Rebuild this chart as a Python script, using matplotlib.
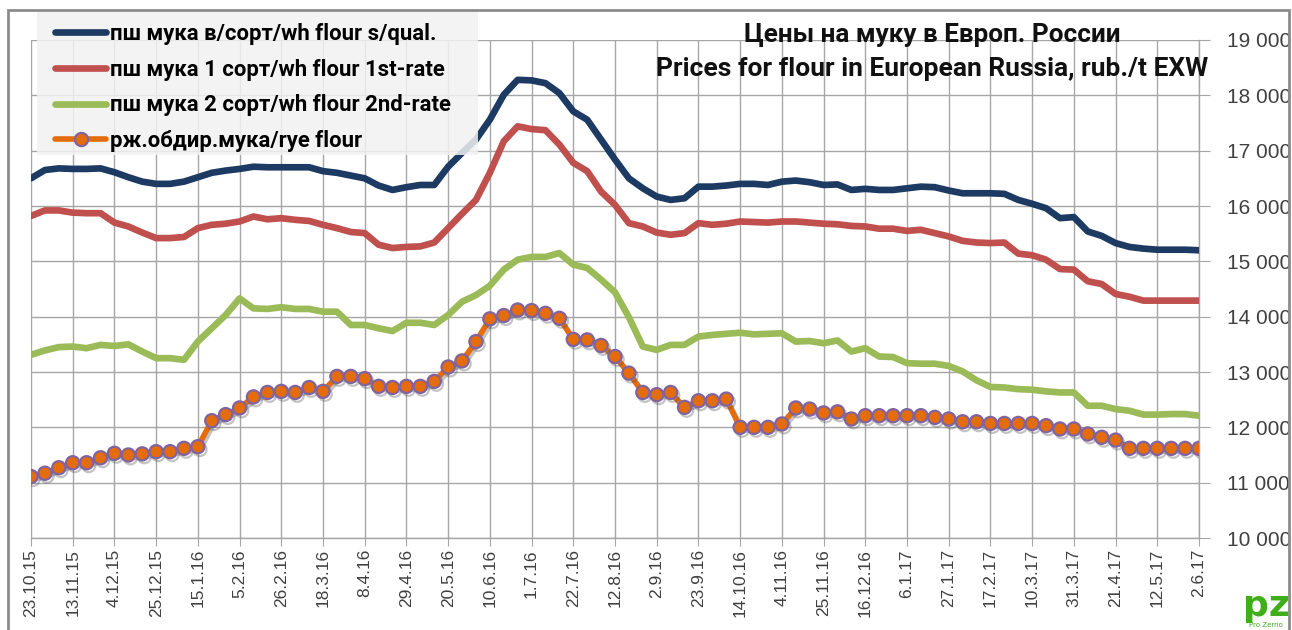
import matplotlib
matplotlib.use("Agg")
import matplotlib.pyplot as plt
from matplotlib.patches import Rectangle
from matplotlib.lines import Line2D
import matplotlib.patheffects as pe

# ---------------- data (weekly, 23.10.15 ... 2.6.17) ----------------
date_labels = ["23.10.15", "13.11.15", "4.12.15", "25.12.15", "15.1.16", "5.2.16",
               "26.2.16", "18.3.16", "8.4.16", "29.4.16", "20.5.16", "10.6.16",
               "1.7.16", "22.7.16", "12.8.16", "2.9.16", "23.9.16", "14.10.16",
               "4.11.16", "25.11.16", "16.12.16", "6.1.17", "27.1.17", "17.2.17",
               "10.3.17", "31.3.17", "21.4.17", "12.5.17", "2.6.17"]

flour_top = [16500, 16650, 16680, 16670, 16670, 16680, 16610, 16520, 16440, 16400,
             16400, 16440, 16520, 16600, 16640, 16670, 16710, 16700, 16700, 16700,
             16700, 16630, 16600, 16550, 16500, 16370, 16290, 16340, 16380, 16380,
             16710, 16960, 17200, 17560, 18010, 18280, 18270, 18220, 18040, 17710,
             17560, 17200, 16840, 16500, 16320, 16170, 16110, 16140, 16350, 16350,
             16370, 16400, 16400, 16380, 16440, 16460, 16430, 16380, 16390, 16290,
             16310, 16290, 16290, 16320, 16350, 16340, 16280, 16230, 16230, 16230,
             16220, 16110, 16040, 15960, 15780, 15800, 15540, 15460, 15330, 15260,
             15230, 15210, 15210, 15210, 15200]

flour_1st = [15820, 15920, 15920, 15880, 15870, 15870, 15700, 15630, 15520, 15420,
             15420, 15440, 15600, 15660, 15680, 15720, 15810, 15760, 15780, 15750,
             15730, 15660, 15600, 15530, 15510, 15300, 15240, 15260, 15270, 15340,
             15600, 15860, 16110, 16600, 17170, 17440, 17390, 17370, 17110, 16780,
             16630, 16260, 16020, 15690, 15630, 15520, 15480, 15510, 15690, 15660,
             15680, 15720, 15710, 15700, 15720, 15720, 15700, 15680, 15670, 15640,
             15630, 15590, 15590, 15550, 15570, 15510, 15450, 15370, 15340, 15330,
             15340, 15140, 15110, 15030, 14860, 14850, 14640, 14590, 14410, 14360,
             14290, 14290, 14290, 14290, 14290]

flour_2nd = [13310, 13390, 13450, 13460, 13430, 13490, 13470, 13500, 13370, 13250,
             13250, 13220, 13550, 13790, 14030, 14330, 14150, 14140, 14170, 14140,
             14140, 14090, 14090, 13850, 13850, 13790, 13740, 13890, 13890, 13850,
             14030, 14270, 14390, 14560, 14850, 15030, 15080, 15080, 15150, 14940,
             14880, 14670, 14440, 13990, 13460, 13400, 13490, 13490, 13640, 13670,
             13690, 13710, 13680, 13690, 13700, 13550, 13560, 13520, 13570, 13370,
             13430, 13280, 13270, 13160, 13150, 13150, 13110, 13010, 12850, 12730,
             12720, 12690, 12680, 12650, 12630, 12630, 12390, 12390, 12330, 12300,
             12230, 12230, 12240, 12240, 12210]

rye_flour = [11110, 11170, 11270, 11360, 11360, 11450, 11530, 11500, 11520, 11560,
             11560, 11620, 11650, 12120, 12230, 12350, 12550, 12630, 12650, 12630,
             12720, 12650, 12920, 12920, 12880, 12740, 12720, 12740, 12740, 12830,
             13090, 13200, 13550, 13960, 14020, 14120, 14110, 14060, 13970, 13590,
             13580, 13480, 13280, 12980, 12630, 12590, 12630, 12360, 12480, 12480,
             12510, 12000, 12000, 12000, 12060, 12350, 12330, 12260, 12280, 12150,
             12210, 12210, 12210, 12210, 12210, 12180, 12150, 12100, 12100, 12070,
             12070, 12070, 12070, 12030, 11970, 11970, 11880, 11820, 11770, 11620,
             11620, 11620, 11620, 11620, 11620]

series_names = ["пш мука в/сорт/wh flour s/qual.",
                "пш мука 1 сорт/wh flour 1st-rate",
                "пш мука 2 сорт/wh flour 2nd-rate",
                "рж.обдир.мука/rye flour"]

y_ticks = [10000, 11000, 12000, 13000, 14000, 15000, 16000, 17000, 18000, 19000]
y_labels = ["10 000", "11 000", "12 000", "13 000", "14 000", "15 000",
            "16 000", "17 000", "18 000", "19 000"]

title_ru = "Цены на муку в Европ. России"
title_en = "Prices for flour in European Russia, rub./t EXW"

# ---------------- figure ----------------
W, H = 1292, 630
fig = plt.figure(figsize=(W / 100, H / 100), dpi=100)
fig.patch.set_facecolor("white")

ax = fig.add_axes([31 / W, (H - 538) / H, (1199 - 31) / W, (538 - 40) / H])
weeks = list(range(len(rye_flour)))

c_blue, c_red, c_green = "#1d3a63", "#c0504d", "#9bbb59"
c_orange, c_purple = "#e46c0a", "#8064a2"

l1, = ax.plot(weeks, flour_top, color=c_blue, lw=4.8, solid_joinstyle="round",
              solid_capstyle="round", zorder=3)
l2, = ax.plot(weeks, flour_1st, color=c_red, lw=4.8, solid_joinstyle="round",
              solid_capstyle="round", zorder=3)
l3, = ax.plot(weeks, flour_2nd, color=c_green, lw=4.8, solid_joinstyle="round",
              solid_capstyle="round", zorder=3)
l4, = ax.plot(weeks, rye_flour, color=c_orange, lw=4.0, solid_joinstyle="round",
              marker="o", markersize=9.5, markerfacecolor=c_orange,
              markeredgecolor=c_purple, markeredgewidth=1.6, zorder=4,
              path_effects=[pe.SimpleLineShadow(offset=(1.5, -2), shadow_color="#555555",
                                                alpha=0.35),
                            pe.Normal()])

ax.set_xlim(0, len(weeks) - 1)
ax.set_ylim(y_ticks[0], y_ticks[-1])
ax.set_xticks(weeks[::3])
ax.set_xticklabels(date_labels, rotation=90, fontsize=12.5, color="#404040",
                   family="Liberation Sans")
ax.set_yticks(y_ticks)
ax.set_yticklabels(y_labels, fontsize=15, color="#404040", family="Liberation Sans")
ax.yaxis.tick_right()
ax.grid(True, color="#a6a6a6", lw=1.0)
ax.set_axisbelow(True)
for s in ("top", "left"):
    ax.spines[s].set_visible(False)
for s in ("bottom", "right"):
    ax.spines[s].set_color("#a6a6a6")
    ax.spines[s].set_linewidth(1.0)
ax.tick_params(axis="x", length=6, color="#a6a6a6", pad=2)
ax.tick_params(axis="y", length=8, color="#a6a6a6", pad=12)

# outer frame
fig.add_artist(Rectangle((8 / W, -0.02), (1289 - 8) / W, (H - 10) / H + 0.02,
                         transform=fig.transFigure, fill=False,
                         edgecolor="#8c8c8c", lw=2, zorder=0.5))

# legend background
fig.add_artist(Rectangle((37 / W, (H - 155) / H), (478 - 37) / W, (155 - 12) / H,
                         transform=fig.transFigure, facecolor="#f2f2f2",
                         edgecolor="none", alpha=0.85, zorder=1))

# fit legend font size
lf = ["Roboto", "DejaVu Sans"]
tmp = fig.text(0, 0, series_names[2], fontsize=14, weight="bold", family=lf)
r = fig.canvas.get_renderer()
wpx = tmp.get_window_extent(r).width
leg_fs = 14 * 342 / wpx
tmp.remove()

handles = [Line2D([], [], color=c_blue, lw=4.8, solid_capstyle="round"),
           Line2D([], [], color=c_red, lw=4.8, solid_capstyle="round"),
           Line2D([], [], color=c_green, lw=4.8, solid_capstyle="round"),
           Line2D([], [], color=c_orange, lw=4.0, marker="o", markersize=9.5,
                  markerfacecolor=c_orange, markeredgecolor=c_purple,
                  markeredgewidth=1.6, solid_capstyle="round")]
fig.legend(handles, series_names, loc="upper left",
           bbox_to_anchor=(55 / W, (H - 23) / H), bbox_transform=fig.transFigure,
           frameon=False, prop=dict(family=lf, weight="bold", size=leg_fs),
           handlelength=51 / (leg_fs * 100 / 72), handletextpad=0.2,
           labelspacing=0.62, borderpad=0, borderaxespad=0)

# titles
tf = ["Roboto", "DejaVu Sans"]
t1 = fig.text(932 / W, 1 - 35 / H, title_ru, ha="center", va="center",
              fontsize=17, weight="bold", family=tf, color="#111111", zorder=3)
t2 = fig.text(932 / W, 1 - 69 / H, title_en, ha="center", va="center",
              fontsize=17, weight="bold", family=tf, color="#111111", zorder=3)
for t, target in ((t1, 377), (t2, 552)):
    w = t.get_window_extent(r).width
    t.set_fontsize(t.get_fontsize() * target / w)

# logo
fig.text(1266 / W, 1 - 606 / H, "pz", ha="center", va="center", fontsize=26,
         weight="bold", color="#3fae1a", family="DejaVu Sans", zorder=3)
fig.text(1266 / W, 1 - 625 / H, "Pro Zerno", ha="center", va="center", fontsize=5,
         color="#3fae1a", family="DejaVu Sans", zorder=3)

fig.savefig("out.png", dpi=100)
